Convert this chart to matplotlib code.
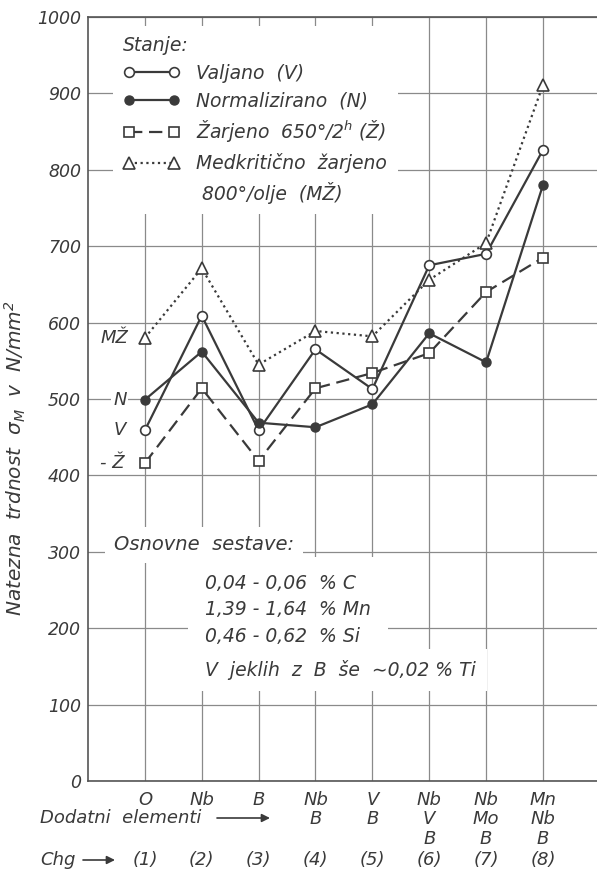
# tensile strength vs. additional alloying elements
import matplotlib
matplotlib.use('Agg')
import matplotlib.pyplot as plt
from matplotlib.lines import Line2D

plt.rcParams['font.family'] = 'DejaVu Sans'
plt.rcParams['font.style'] = 'oblique'
plt.rcParams['mathtext.fontset'] = 'dejavusans'
plt.rcParams['mathtext.default'] = 'it'

# data (N/mm^2)
charges = [1, 2, 3, 4, 5, 6, 7, 8]
elements = ["O", "Nb", "B", "Nb\nB", "V\nB", "Nb\nV\nB", "Nb\nMo\nB", "Mn\nNb\nB"]
chg_labels = ["(1)", "(2)", "(3)", "(4)", "(5)", "(6)", "(7)", "(8)"]
valjano = [459, 609, 459, 565, 513, 675, 690, 826]
normalizirano = [499, 562, 469, 463, 493, 586, 548, 780]
zarjeno = [416, 514, 419, 514, 534, 560, 640, 685]
medkriticno = [580, 671, 545, 589, 582, 656, 704, 911]
sestava = ["0,04 - 0,06  % C", "1,39 - 1,64  % Mn", "0,46 - 0,62  % Si"]

ink = '#3a3a3a'
grid_c = '#8a8a8a'

fig = plt.figure(figsize=(5.97, 8.74), dpi=100)
ax = fig.add_axes([88/597, 1 - 781/874, 509/597, 764/874])

ax.set_xlim(0, 8.95)
ax.set_ylim(0, 1000)
ax.set_xticks(charges)
ax.set_yticks(range(0, 1001, 100))
ax.grid(True, color=grid_c, linewidth=0.9)
ax.set_axisbelow(True)
for s in ['left', 'bottom', 'top']:
    ax.spines[s].set_color('#555555')
    ax.spines[s].set_linewidth(1.2)
ax.spines['right'].set_visible(False)
ax.tick_params(length=0, colors=ink, labelsize=12.5)
ax.tick_params(axis='y', pad=5)
ax.tick_params(axis='x', pad=7, labelsize=13)
ax.set_xticklabels(elements, linespacing=1.12, va='top')

# charge numbers under the element rows
for x, c in zip(charges, chg_labels):
    ax.text(x, -79/764, c, transform=ax.get_xaxis_transform(), ha='center', va='center',
            fontsize=13, color=ink)

# series
l_v, = ax.plot(charges, valjano, color=ink, lw=1.6, marker='o', ms=7,
               mfc='white', mec=ink, mew=1.2, zorder=4)
l_n, = ax.plot(charges, normalizirano, color=ink, lw=1.6, marker='o', ms=6.5,
               mfc=ink, mec=ink, zorder=4)
l_z, = ax.plot(charges, zarjeno, color=ink, lw=1.6, ls=(0, (6, 3)), marker='s', ms=7,
               mfc='white', mec=ink, mew=1.2, zorder=4)
l_m, = ax.plot(charges, medkriticno, color=ink, lw=1.6, ls=(0, (1, 1.6)), marker='^', ms=8,
               mfc='white', mec=ink, mew=1.2, zorder=4)

blank = Line2D([], [], linestyle='none', marker='none')
leg = ax.legend([l_v, l_n, l_z, l_m, blank],
                ["Valjano  (V)", "Normalizirano  (N)", "Žarjeno  650°/2$^h$ (Ž)",
                 "Medkritično  žarjeno", " 800°/olje  (MŽ)"],
                title="Stanje:", loc='upper left', bbox_to_anchor=(0.049, 0.988),
                borderaxespad=0, frameon=True, facecolor='white', edgecolor='none',
                framealpha=1, fancybox=False, fontsize=13.5, title_fontsize=13.5,
                handlelength=3.0, handletextpad=0.9, labelspacing=0.45,
                borderpad=0.55, alignment='left', numpoints=2)
for t in leg.get_texts():
    t.set_color(ink)
leg.get_title().set_color(ink)

# labels next to first points
ax.text(0.46, 580, "MŽ", ha='center', va='center', fontsize=13, color=ink)
ax.text(0.56, 499, "N", ha='center', va='center', fontsize=13, color=ink,
        bbox=dict(boxstyle='square,pad=0.1', fc='white', ec='none'))
ax.text(0.56, 459, "V", ha='center', va='center', fontsize=13, color=ink)
ax.text(0.42, 416, "- Ž", ha='center', va='center', fontsize=13, color=ink)

# composition notes
ax.text(0.46, 309, "Osnovne  sestave:", ha='left', va='center', fontsize=14, color=ink,
        bbox=dict(boxstyle='square,pad=0.45', fc='white', ec='none'), zorder=3)
ax.text(2.06, 224, "\n".join(sestava), ha='left', va='center', fontsize=13.5, color=ink,
        linespacing=1.5, bbox=dict(boxstyle='square,pad=0.9', fc='white', ec='none'),
        zorder=3)
ax.text(2.06, 145, "V  jeklih  z  B  še  ∼0,02 % Ti", ha='left', va='center', fontsize=13.5,
        color=ink, bbox=dict(boxstyle='square,pad=0.6', fc='white', ec='none'), zorder=3)

# y label
fig.text(15/597, 1 - 458/874, r"Natezna  trdnost  $\sigma_M$  v  N/mm$^2$", rotation=90,
         ha='center', va='center', fontsize=14.5, color=ink)

# bottom row captions with arrows
fig.text(40/597, 1 - 818/874, "Dodatni  elementi", ha='left', va='center', fontsize=13, color=ink)
fig.text(40/597, 1 - 860/874, "Chg", ha='left', va='center', fontsize=13, color=ink)
arrow = dict(arrowstyle='-|>', lw=1.2, color=ink, mutation_scale=12, shrinkA=0, shrinkB=0)
ax.annotate('', xy=(270/597, 1 - 818/874), xytext=(217/597, 1 - 818/874),
            xycoords='figure fraction', textcoords='figure fraction', arrowprops=arrow)
ax.annotate('', xy=(115/597, 1 - 860/874), xytext=(83/597, 1 - 860/874),
            xycoords='figure fraction', textcoords='figure fraction', arrowprops=arrow)

plt.savefig('out.png', dpi=100)
